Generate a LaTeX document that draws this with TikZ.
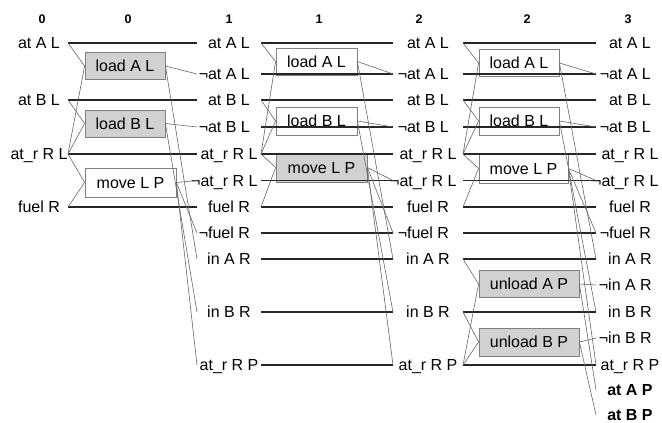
\documentclass[tikz,border=0pt]{standalone}
\usepackage{fontspec}
\setmainfont{Liberation Sans}
\begin{document}
\begin{tikzpicture}[x=1pt,y=-1pt,
  txt/.style={font=\fontsize{16}{18}\selectfont, text height=11.5pt, text depth=0pt},
  st/.style={txt, inner sep=0pt, outer sep=0pt},
  st0/.style={st, minimum width=58pt},
  st1/.style={st, minimum width=64pt},
  st2/.style={st, minimum width=70pt},
  st3/.style={st, minimum width=68pt},
  hdr/.style={font=\fontsize{12.5}{14}\selectfont\bfseries, inner sep=0pt},
  act/.style={txt, draw=black!50, line width=0.8pt, inner sep=0pt, minimum height=27pt, fill=white},
  actg/.style={act, fill=black!18},
  pers/.style={draw=black!85, line width=1.7pt},
  conn/.style={draw=black!60, line width=0.6pt}
]
\useasboundingbox (0,0) rectangle (662,423);

% headers
\node[hdr] (h0) at (42,19) {0};
\node[hdr] (h1) at (128,19) {0};
\node[hdr] (h2) at (229,19) {1};
\node[hdr] (h3) at (319,19) {1};
\node[hdr] (h4) at (419,19) {2};
\node[hdr] (h5) at (527,19) {2};
\node[hdr] (h6) at (628,19) {3};

% action boxes
\node[actg, minimum width=80pt] (lA0) at (125,66) {load A L};
\node[actg, minimum width=80pt] (lB0) at (125,123.5) {load B L};
\node[act, minimum width=91pt, minimum height=29pt] (mv0) at (130.5,182.5) {move L P};

\node[act, minimum width=81pt] (lA1) at (316.5,61.5) {load A L};
\node[act, minimum width=81pt, minimum height=28pt] (lB1) at (316.5,121) {load B L};
\node[actg, minimum width=91pt, minimum height=29pt] (mv1) at (321.5,167.5) {move L P};

\node[act, minimum width=80pt] (lA2) at (519,63) {load A L};
\node[act, minimum width=80pt, minimum height=28pt] (lB2) at (519,121) {load B L};
\node[act, minimum width=89pt, minimum height=29pt] (mv2) at (523.5,168.5) {move L P};
\node[actg, minimum width=100pt] (uA2) at (529,284) {unload A P};
\node[actg, minimum width=100pt, minimum height=28pt] (uB2) at (529,342) {unload B P};

% state labels
\def\rowsZ{1/43/{at A L},3/100/{at B L},5/154/{at\_r R L},7/207/{fuel R}}
\def\rowsM{1/43/{at A L},2/74/{\llap{¬}at A L},3/100/{at B L},4/127/{\llap{¬}at B L},5/154/{at\_r R L},6/180.5/{\llap{¬}at\_r R L},7/207/{fuel R},8/233/{\llap{¬}fuel R},9/259/{in A R},11/312/{in B R},13/365/{at\_r R P}}
\def\rowsL{1/43/{at A L},2/74/{\llap{¬}at A L},3/100/{at B L},4/127/{\llap{¬}at B L},5/154/{at\_r R L},6/180.5/{\llap{¬}at\_r R L},7/207/{fuel R},8/233/{\llap{¬}fuel R},9/259/{in A R},10/285/{\llap{¬}in A R},11/312/{in B R},12/338/{\llap{¬}in B R},13/365/{at\_r R P},14/390/{\bfseries at A P},15/415/{\bfseries at B P}}

\foreach \i/\y/\t in \rowsZ {\node[st0] (s0-\i) at (39,\y) {\t};}
\foreach \i/\y/\t in \rowsM {\node[st1] (s1-\i) at (229,\y) {\t};}
\foreach \i/\y/\t in \rowsM {\node[st2] (s2-\i) at (428,\y) {\t};}
\foreach \i/\y/\t in \rowsL {\node[st3] (s3-\i) at (630,\y) {\t};}

% persistence lines
\foreach \i in {1,3,5,7} {\draw[pers] (s0-\i.east) -- (s1-\i.west);}
\foreach \i in {1,2,3,4,5,6,7,8,9,11,13} {\draw[pers] (s1-\i.east) -- (s2-\i.west);}
\foreach \i in {1,2,3,4,5,6,7,8,9,11,13} {\draw[pers] (s2-\i.east) -- (s3-\i.west);}

% preconditions
\foreach \a/\b in {s0-1/lA0, s0-5/lA0, s0-3/lB0, s0-5/lB0, s0-5/mv0, s0-7/mv0,
                   s1-1/lA1, s1-5/lA1, s1-3/lB1, s1-5/lB1, s1-5/mv1, s1-7/mv1,
                   s2-1/lA2, s2-5/lA2, s2-3/lB2, s2-5/lB2, s2-5/mv2, s2-7/mv2,
                   s2-9/uA2, s2-13/uA2, s2-11/uB2, s2-13/uB2}
  {\draw[conn] (\a.east) -- (\b.west);}

% effects
\foreach \a/\b in {lA0/s1-2, lA0/s1-9, lB0/s1-4, lB0/s1-11, mv0/s1-6, mv0/s1-8, mv0/s1-13,
                   lA1/s2-2, lA1/s2-9, lB1/s2-4, lB1/s2-11, mv1/s2-6, mv1/s2-8, mv1/s2-13,
                   lA2/s3-2, lA2/s3-9, lB2/s3-4, lB2/s3-11, mv2/s3-6, mv2/s3-8, mv2/s3-13,
                   uA2/s3-10, uA2/s3-14, uB2/s3-12, uB2/s3-15}
  {\draw[conn] (\a.east) -- (\b.west);}
\end{tikzpicture}
\end{document}
